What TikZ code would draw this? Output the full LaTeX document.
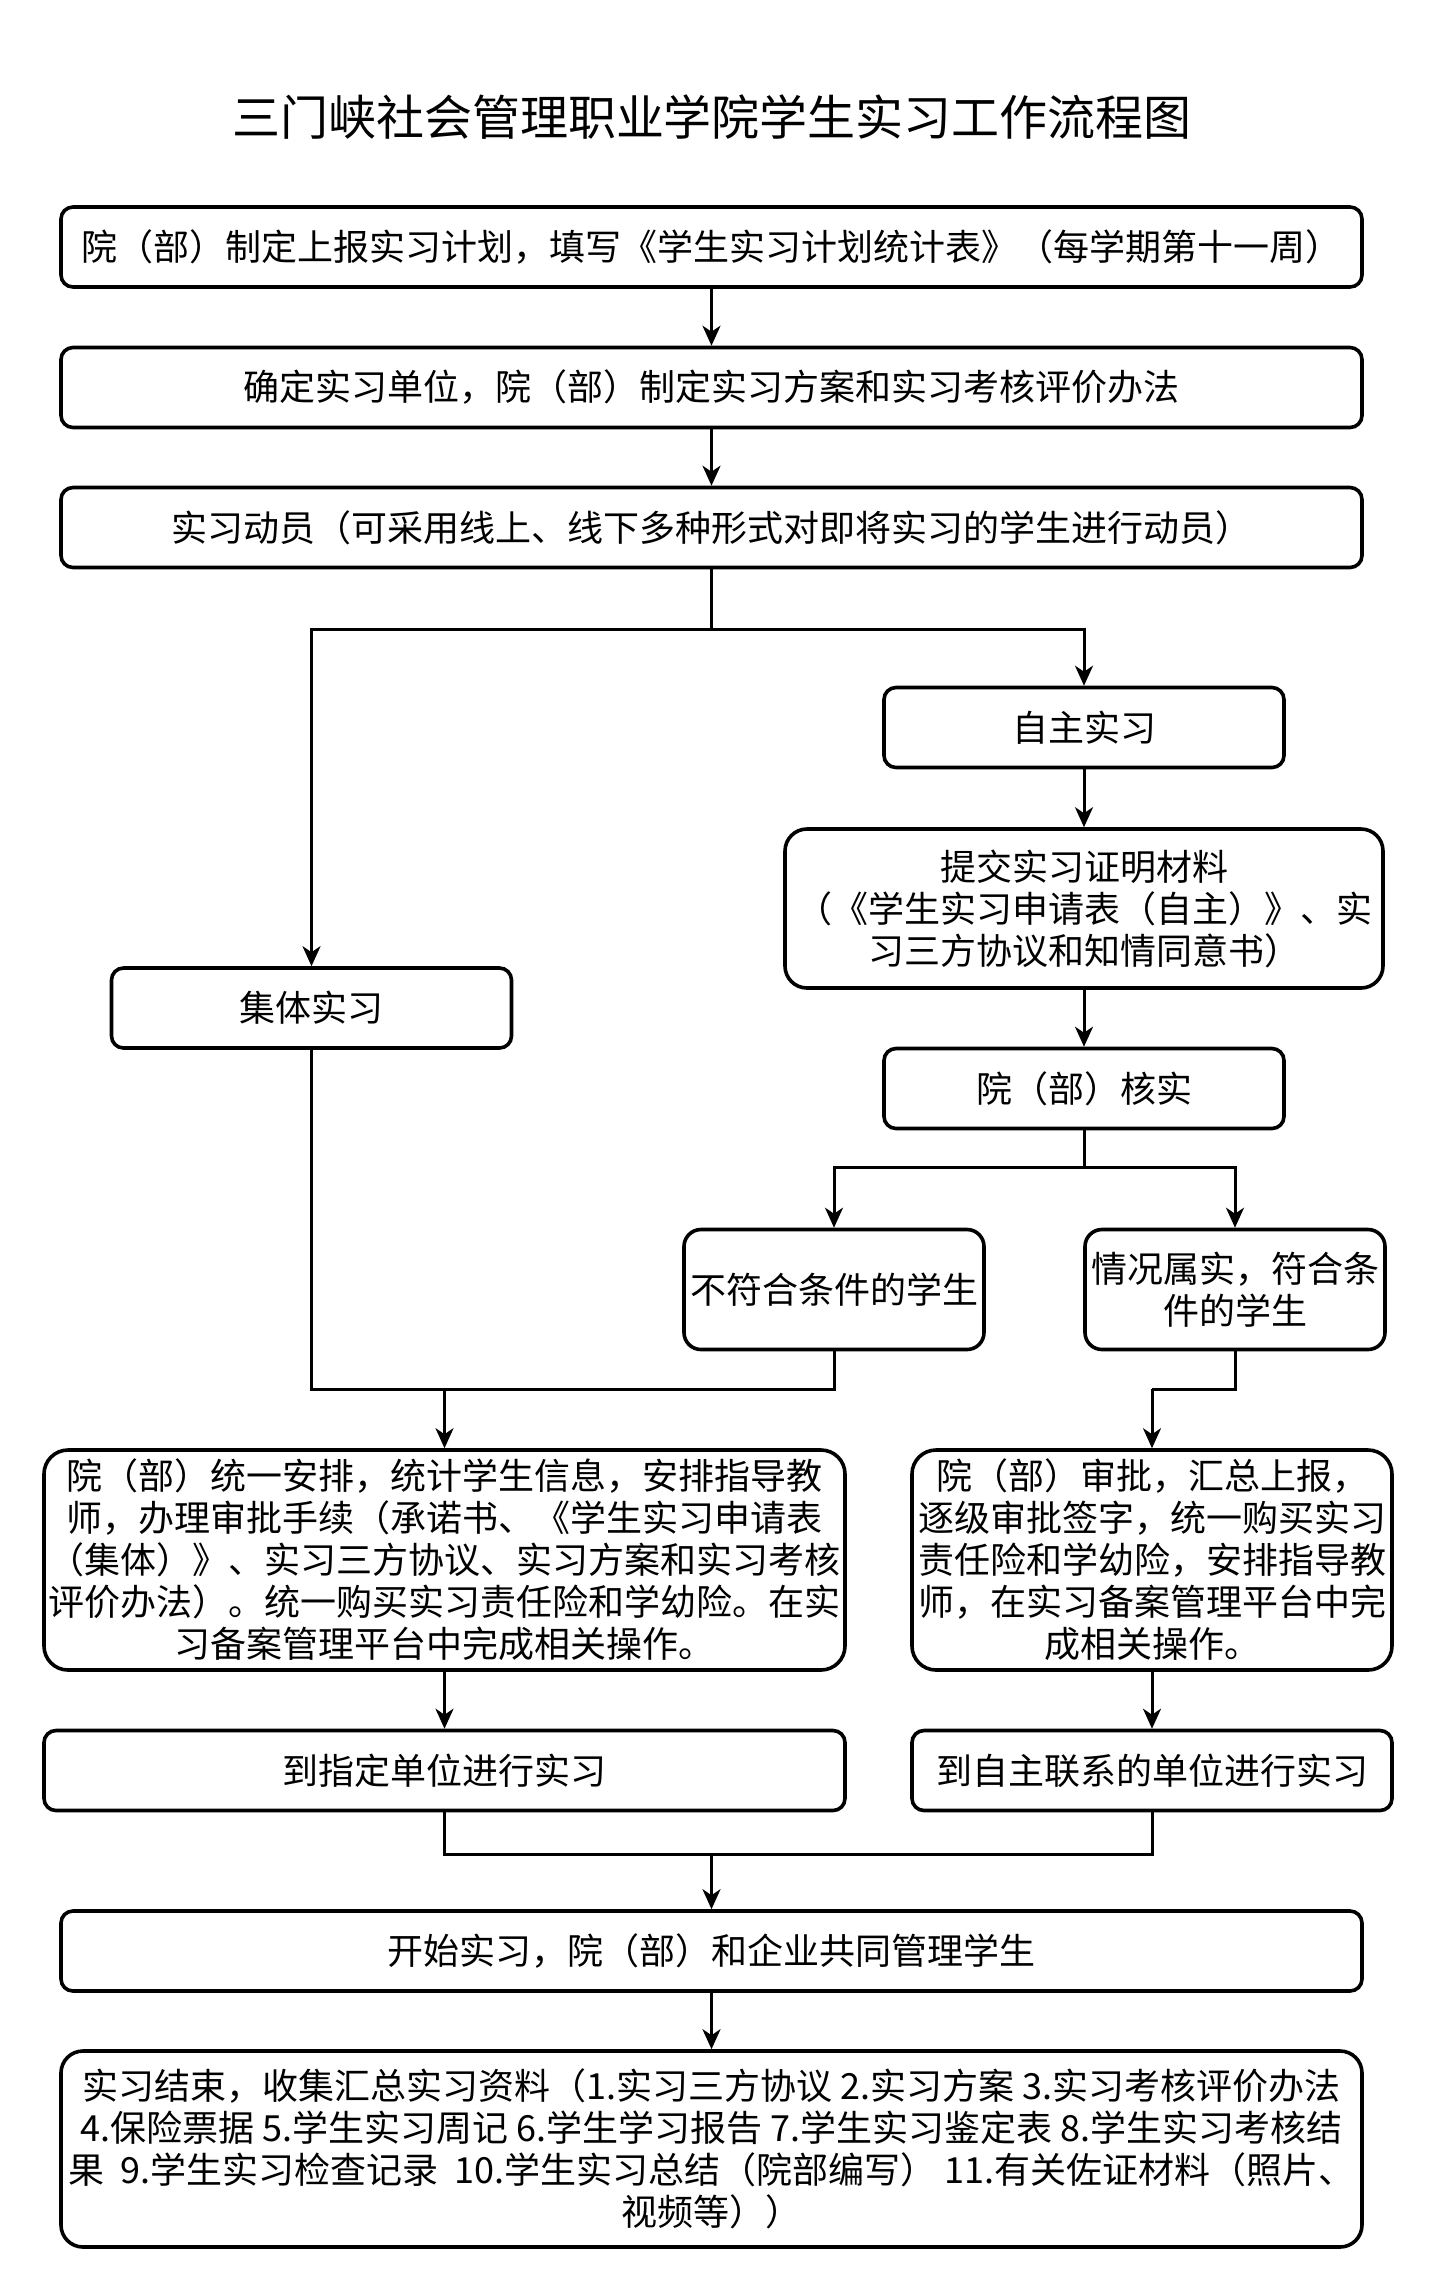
\documentclass[tikz,border=0pt]{standalone}
\usepackage{fontspec}
\setmainfont{Noto Sans CJK SC}
\usetikzlibrary{arrows.meta}
\begin{document}
\begin{tikzpicture}[x=0.5pt,y=-0.5pt,
  box/.style={draw, line width=1.8pt, align=center, inner sep=0pt,
    font=\fontsize{18}{21}\selectfont},
  conn/.style={line width=1.5pt},
  arr/.style={conn, -{Stealth[length=10pt,width=9pt,inset=3pt]}}]
\path[use as bounding box, fill=white] (0,0) rectangle (1432,2288);

\node[font=\fontsize{24}{28}\selectfont] (title) at (712,117) {三门峡社会管理职业学院学生实习工作流程图};

\node[box, minimum width=650.5pt, minimum height=40pt, rounded corners=6pt] (b1) at (711.5,247)
  {院（部）制定上报实习计划，填写《学生实习计划统计表》（每学期第十一周）};
\node[box, minimum width=650.5pt, minimum height=40pt, rounded corners=6pt] (b2) at (711.5,387.5)
  {确定实习单位，院（部）制定实习方案和实习考核评价办法};
\node[box, minimum width=650.5pt, minimum height=40pt, rounded corners=6pt] (b3) at (711.5,527.5)
  {实习动员（可采用线上、线下多种形式对即将实习的学生进行动员）};

\node[box, minimum width=200pt, minimum height=40pt, rounded corners=6pt] (zz) at (1084,727.5) {自主实习};
\node[box, minimum width=299pt, minimum height=79.5pt, rounded corners=11pt] (tj) at (1084,908.5)
  {提交实习证明材料\\（《学生实习申请表（自主）》、实\\习三方协议和知情同意书）};
\node[box, minimum width=200pt, minimum height=40pt, rounded corners=6pt] (hs) at (1084,1088.5) {院（部）核实};
\node[box, minimum width=150pt, minimum height=60pt, rounded corners=8.5pt] (bf) at (834,1289.5) {不符合条件的学生};
\node[box, minimum width=150pt, minimum height=60pt, rounded corners=8.5pt] (qk) at (1235,1289.5) {情况属实，符合条\\件的学生};

\node[box, minimum width=200pt, minimum height=40pt, rounded corners=6pt] (jt) at (311.5,1008) {集体实习};

\node[box, minimum width=400.5pt, minimum height=110pt, rounded corners=12pt] (ty) at (444.5,1560)
  {院（部）统一安排，统计学生信息，安排指导教\\师，办理审批手续（承诺书、《学生实习申请表\\（集体）》、实习三方协议、实习方案和实习考核\\评价办法）。统一购买实习责任险和学幼险。在实\\习备案管理平台中完成相关操作。};
\node[box, minimum width=240pt, minimum height=110pt, rounded corners=12pt] (sp) at (1152,1560)
  {院（部）审批，汇总上报，\\逐级审批签字，统一购买实习\\责任险和学幼险，安排指导教\\师，在实习备案管理平台中完\\成相关操作。};

\node[box, minimum width=400.5pt, minimum height=40pt, rounded corners=6pt] (zd) at (444.5,1770.5) {到指定单位进行实习};
\node[box, minimum width=240pt, minimum height=40pt, rounded corners=6pt] (zl) at (1152,1770.5) {到自主联系的单位进行实习};

\node[box, minimum width=650.5pt, minimum height=40pt, rounded corners=6pt] (ks) at (711.5,1951)
  {开始实习，院（部）和企业共同管理学生};
\node[box, minimum width=650.5pt, minimum height=98pt, rounded corners=11pt] (js) at (711.5,2149)
  {实习结束，收集汇总实习资料（1.实习三方协议 2.实习方案 3.实习考核评价办法\\4.保险票据 5.学生实习周记 6.学生学习报告 7.学生实习鉴定表 8.学生实习考核结\\果\ \ 9.学生实习检查记录\ \ 10.学生实习总结（院部编写）\ 11.有关佐证材料（照片、\\视频等））};

% coordinates
\coordinate (s1) at (711.5,629);
\coordinate (s1l) at (311.5,629);
\coordinate (s1r) at (1084,629);
\coordinate (s2) at (1084,1167);
\coordinate (s2l) at (834,1167);
\coordinate (s2r) at (1235,1167);
\coordinate (j1) at (444.5,1389);
\coordinate (j2) at (1152,1389);
\coordinate (m1) at (711.5,1854);

% connectors
\draw[arr] (b1) -- (b2);
\draw[arr] (b2) -- (b3);
\draw[conn] (b3.south) -- (s1);
\draw[arr] (s1) -- (s1l) -- (jt.north);
\draw[arr] (s1) -- (s1r) -- (zz.north);
\draw[arr] (zz) -- (tj);
\draw[arr] (tj) -- (hs);
\draw[conn] (hs.south) -- (s2);
\draw[arr] (s2) -- (s2l) -- (bf.north);
\draw[arr] (s2) -- (s2r) -- (qk.north);
\draw[conn] (jt.south) -- (jt.south |- j1) -- (j1);
\draw[conn] (bf.south) -- (bf.south |- j1) -- (j1);
\draw[arr] (j1) -- (ty.north);
\draw[conn] (qk.south) -- (qk.south |- j2) -- (j2);
\draw[arr] (j2) -- (sp.north);
\draw[arr] (ty) -- (zd);
\draw[arr] (sp) -- (zl);
\draw[conn] (zd.south) -- (zd.south |- m1) -- (m1);
\draw[conn] (zl.south) -- (zl.south |- m1) -- (m1);
\draw[arr] (m1) -- (ks.north);
\draw[arr] (ks) -- (js);
\end{tikzpicture}
\end{document}
